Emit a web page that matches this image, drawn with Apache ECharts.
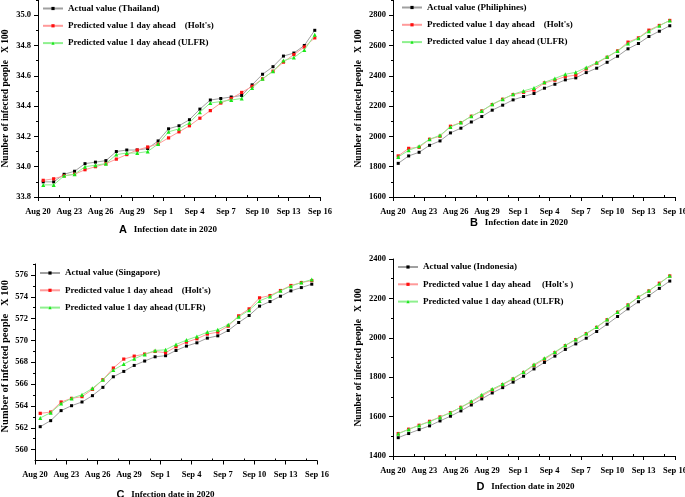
<!DOCTYPE html>
<html>
<head>
<meta charset="utf-8">
<script src="https://cdn.jsdelivr.net/npm/echarts@6/dist/echarts.min.js"></script>
<style>html,body{margin:0;padding:0;background:#fff}#c{width:685px;height:497px}</style>
</head>
<body>
<div id="c"></div>
<script>
// ---- data ----
const xTickLabels = ['Aug 20','Aug 23','Aug 26','Aug 29','Sep 1','Sep 4','Sep 7','Sep 10','Sep 13','Sep 16'];
const xMinorTicks = [2,5,8,11,14,17,20,23,26];

// A: Thailand (x100)
const thActual = [33.90,33.90,33.95,33.97,34.02,34.03,34.04,34.10,34.11,34.11,34.12,34.17,34.25,34.27,34.31,34.38,34.44,34.45,34.46,34.47,34.54,34.61,34.66,34.73,34.75,34.80,34.90];
const thHolt   = [33.91,33.92,33.94,33.95,33.98,34.00,34.02,34.05,34.08,34.11,34.13,34.15,34.19,34.23,34.27,34.32,34.37,34.42,34.45,34.49,34.53,34.58,34.63,34.69,34.74,34.79,34.85];
const thULFR   = [33.88,33.88,33.94,33.95,34.00,34.01,34.02,34.08,34.09,34.09,34.10,34.15,34.23,34.25,34.29,34.36,34.42,34.43,34.44,34.45,34.52,34.58,34.63,34.70,34.72,34.77,34.87];
const yTicksA = [33.8,34.0,34.2,34.4,34.6,34.8,35.0];
const yMinorA = [33.9,34.1,34.3,34.5,34.7,34.9,35.1];

// B: Philippines (x100)
const phActual = [1822,1871,1895,1941,1970,2023,2054,2095,2131,2173,2206,2241,2263,2283,2318,2344,2373,2386,2421,2450,2489,2529,2578,2613,2659,2694,2730];
const phHolt   = [1871,1921,1928,1981,2001,2067,2091,2133,2168,2210,2245,2276,2291,2305,2353,2371,2395,2404,2445,2483,2522,2564,2622,2650,2701,2732,2765];
const phULFR   = [1864,1908,1935,1981,2007,2062,2091,2133,2168,2212,2245,2278,2300,2320,2357,2382,2410,2423,2454,2487,2525,2564,2613,2648,2694,2730,2765];
const yTicksB = [1600,1800,2000,2200,2400,2600,2800];
const yMinorB = [1700,1900,2100,2300,2500,2700,2900];

// C: Singapore (x100)
const sgActual = [562.1,562.65,563.57,564.02,564.36,564.94,565.70,566.67,567.16,567.71,568.11,568.50,568.60,569.08,569.48,569.78,570.21,570.42,570.91,571.64,572.28,573.14,573.56,574.05,574.54,574.84,575.15];
const sgHolt   = [563.32,563.44,564.36,564.69,564.85,565.52,566.40,567.47,568.29,568.56,568.75,568.99,568.87,569.42,569.84,570.15,570.58,570.76,571.31,572.25,572.89,573.90,574.11,574.57,575.03,575.30,575.48];
const sgULFR   = [562.90,563.38,564.21,564.69,565.03,565.61,566.40,567.28,567.83,568.32,568.72,569.08,569.14,569.63,570.03,570.36,570.76,570.97,571.43,572.16,572.77,573.62,574.02,574.54,574.97,575.30,575.57];
const yTicksC = [560,562,564,566,568,570,572,574,576];
const yMinorC = [561,563,565,567,569,571,573,575,577];

// D: Indonesia (x100)
const idActual = [1493,1514,1534,1553,1578,1602,1629,1659,1690,1720,1747,1775,1805,1842,1875,1907,1941,1969,1998,2032,2069,2108,2147,2183,2214,2251,2288];
const idHolt   = [1514,1536,1556,1576,1598,1620,1647,1674,1705,1735,1762,1791,1824,1860,1891,1925,1960,1991,2021,2053,2092,2130,2167,2206,2238,2277,2314];
const idULFR   = [1513,1535,1555,1574,1597,1620,1647,1678,1711,1740,1765,1794,1826,1864,1896,1928,1962,1992,2022,2055,2093,2131,2168,2207,2239,2275,2315];
const yTicksD = [1400,1600,1800,2000,2200,2400];
const yMinorD = [1500,1700,1900,2100,2300];

const panels = [
  {letter:'A', actualName:'Actual value (Thailand)', holtName:"Predicted value 1 day ahead    (Holt's)", ulfrName:'Predicted value 1 day ahead (ULFR)',
   actual:thActual, holt:thHolt, ulfr:thULFR, yMin:33.8, yMax:35.1, ticks:yTicksA, minor:yMinorA, dec:1,
   grid:{left:38, top:0, width:282, height:197}, legend:{left:42, top:4, w:20}, yNameGap:27, yNameSize:9.5, yNamePad:[0,0,0,0], xNameGap:27, xNamePad:[0,22,0,0]},
  {letter:'B', actualName:'Actual value (Philiphines)', holtName:"Predicted value 1 day ahead    (Holt's)", ulfrName:'Predicted value 1 day ahead (ULFR)',
   actual:phActual, holt:phHolt, ulfr:phULFR, yMin:1600, yMax:2900, ticks:yTicksB, minor:yMinorB, dec:0,
   grid:{left:393, top:0, width:282, height:197}, legend:{left:401, top:3, w:20}, yNameGap:29, yNameSize:9.5, yNamePad:[0,0,0,0], xNameGap:17, xNamePad:[0,30,0,0]},
  {letter:'C', actualName:'Actual value (Singapore)', holtName:"Predicted value 1 day ahead    (Holt's)", ulfrName:'Predicted value 1 day ahead (ULFR)',
   actual:sgActual, holt:sgHolt, ulfr:sgULFR, yMin:559, yMax:577, ticks:yTicksC, minor:yMinorC, dec:0,
   grid:{left:35, top:264, width:282, height:196.5}, legend:{left:39, top:268.5, w:20}, yNameGap:24, yNameSize:10.5, yNamePad:[0,0,0,12], xNameGap:28, xNamePad:[0,21,0,0]},
  {letter:'D', actualName:'Actual value (Indonesia)', holtName:"Predicted value 1 day ahead     (Holt's )", ulfrName:'Predicted value 1 day ahead (ULFR)',
   actual:idActual, holt:idHolt, ulfr:idULFR, yMin:1400, yMax:2400, ticks:yTicksD, minor:yMinorD, dec:0,
   grid:{left:393, top:259, width:282, height:197}, legend:{left:397, top:262.5, w:20}, yNameGap:29, yNameSize:9.5, yNamePad:[0,0,0,0], xNameGap:25, xNamePad:[0,17,0,0]}
];

const SERIF = '"Liberation Serif","Times New Roman",serif';
const SANS = '"Liberation Sans",Arial,sans-serif';
const labelStyle = {fontFamily:SERIF, fontWeight:'bold', fontSize:8.5, color:'#000'};

const grids=[], xAxes=[], yAxes=[], series=[], legends=[];
panels.forEach((p, k) => {
  grids.push(Object.assign({outerBoundsMode:'none', containLabel:false}, p.grid));
  xAxes.push({
    type:'value', gridIndex:k, min:0, max:27, interval:3,
    axisLine:{show:true, onZero:false, lineStyle:{color:'#000', width:1}},
    axisTick:{show:true, length:4, lineStyle:{color:'#000', width:1}},
    splitLine:{show:false},
    axisLabel:Object.assign({margin:10, formatter:v => xTickLabels[Math.round(v/3)] || ''}, labelStyle),
    name:'{l|' + p.letter + '}  {t|Infection date in 2020}', nameLocation:'middle', nameGap:p.xNameGap,
    nameTextStyle:{padding:p.xNamePad, rich:{
      l:{fontFamily:SANS, fontWeight:'bold', fontSize:11, color:'#000'},
      t:{fontFamily:SERIF, fontWeight:'bold', fontSize:9, color:'#000'}}}
  });
  xAxes.push({
    type:'value', gridIndex:k, min:0, max:27, position:'bottom',
    axisLine:{show:false}, splitLine:{show:false}, axisLabel:{show:false},
    axisTick:{show:true, inside:true, length:2, customValues:xMinorTicks, lineStyle:{color:'#000', width:1}}
  });
  yAxes.push({
    type:'value', gridIndex:k, min:p.yMin, max:p.yMax,
    axisLine:{show:true, onZero:false, lineStyle:{color:'#000', width:1}},
    axisTick:{show:true, length:4, customValues:p.ticks, lineStyle:{color:'#000', width:1}},
    splitLine:{show:false},
    axisLabel:Object.assign({margin:7, customValues:p.ticks, formatter:v => v.toFixed(p.dec)}, labelStyle),
    name:'Number of infected people   X 100', nameLocation:'middle', nameGap:p.yNameGap,
    nameTextStyle:{fontFamily:SERIF, fontWeight:'bold', fontSize:p.yNameSize, color:'#000', padding:p.yNamePad}
  });
  yAxes.push({
    type:'value', gridIndex:k, min:p.yMin, max:p.yMax, position:'left',
    axisLine:{show:false}, splitLine:{show:false}, axisLabel:{show:false},
    axisTick:{show:true, length:2, customValues:p.minor, lineStyle:{color:'#000', width:1}}
  });
  const toXY = arr => arr.map((v,i) => [i + 0.5, v]);
  const common = {type:'line', xAxisIndex:2*k, yAxisIndex:2*k, animation:false, silent:true};
  series.push(Object.assign({}, common, {name:p.actualName, data:toXY(p.actual), symbol:'rect', symbolSize:3,
    lineStyle:{color:'#a0a0a0', width:1}, itemStyle:{color:'#000'}, z:2}));
  series.push(Object.assign({}, common, {name:p.holtName, data:toXY(p.holt), symbol:'rect', symbolSize:3.2,
    lineStyle:{color:'#ff9a9a', width:1}, itemStyle:{color:'#ff1010'}, z:3}));
  series.push(Object.assign({}, common, {name:p.ulfrName, data:toXY(p.ulfr), symbol:'triangle', symbolSize:4,
    lineStyle:{color:'#8ef08e', width:1}, itemStyle:{color:'#18e818'}, z:4}));
  legends.push({
    orient:'vertical', left:p.legend.left, top:p.legend.top, padding:0,
    itemWidth:p.legend.w, itemHeight:4, itemGap:8.3, selectedMode:false,
    data:[p.actualName, p.holtName, p.ulfrName],
    textStyle:{fontFamily:SERIF, fontWeight:'bold', fontSize:9, color:'#000'}
  });
});

const chart = echarts.init(document.getElementById('c'), null, {renderer:'canvas'});
chart.setOption({
  backgroundColor:'#fff',
  animation:false,
  grid:grids, xAxis:xAxes, yAxis:yAxes, legend:legends, series:series
});
</script>
</body>
</html>
